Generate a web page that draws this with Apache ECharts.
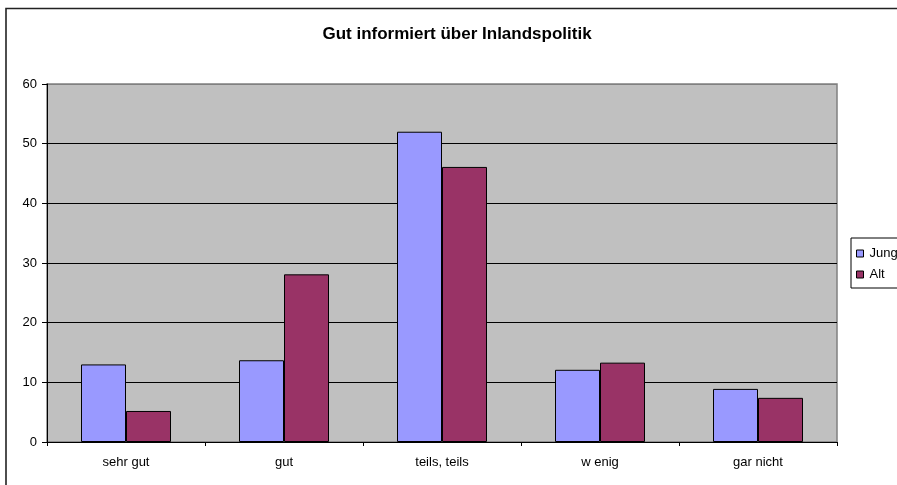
<!DOCTYPE html>
<html>
<head>
<meta charset="utf-8">
<script src="https://cdn.jsdelivr.net/npm/echarts@6/dist/echarts.min.js"></script>
<style>
  html, body { margin: 0; padding: 0; background: #fff; }
  #chart { width: 897px; height: 485px; }
</style>
</head>
<body>
<div id="chart"></div>
<script>
// Survey answers: how well informed about domestic politics, young vs. old
const categories = ['sehr gut', 'gut', 'teils, teils', 'w enig', 'gar nicht'];
const jungValues = [13.0, 13.7, 52.0, 12.1, 8.9];
const altValues = [5.2, 28.1, 46.1, 13.3, 7.4];
const seriesNames = ['Jung', 'Alt'];
const yTicks = { min: 0, max: 60, interval: 10 };

const FONT = '"Liberation Sans", Arial, sans-serif';

const chart = echarts.init(document.getElementById('chart'), null, { renderer: 'canvas' });

chart.setOption({
  backgroundColor: '#ffffff',
  animation: false,
  title: {
    text: 'Gut informiert über Inlandspolitik',
    left: 452,
    top: 21,
    textAlign: 'center',
    textStyle: { fontFamily: FONT, fontSize: 17, fontWeight: 'bold', color: '#000' }
  },
  graphic: [{
    type: 'rect',
    shape: { x: 6, y: 8.5, width: 1200, height: 1200 },
    style: { fill: 'none', stroke: '#222', lineWidth: 1.6 },
    silent: true,
    z: 100
  }],
  legend: {
    orient: 'vertical',
    left: 851,
    top: 238,
    data: seriesNames,
    icon: 'rect',
    itemWidth: 7,
    itemHeight: 7,
    itemGap: 8,
    padding: [9, 30, 7, 5],
    borderColor: '#000',
    borderWidth: 1,
    backgroundColor: '#fff',
    itemStyle: { borderColor: '#000', borderWidth: 1 },
    textStyle: { fontFamily: FONT, fontSize: 13, color: '#000', padding: [0, 0, 0, 1] }
  },
  grid: {
    left: 47,
    top: 84,
    right: 60,
    bottom: 43,
    show: true,
    backgroundColor: '#c0c0c0',
    borderColor: '#808080',
    borderWidth: 1.5
  },
  xAxis: {
    type: 'category',
    data: categories,
    axisLine: { lineStyle: { color: '#000', width: 1 } },
    axisTick: { show: true, length: 4, lineStyle: { color: '#000' } },
    axisLabel: { fontFamily: FONT, fontSize: 13, color: '#000', margin: 14 },
    splitLine: { show: false }
  },
  yAxis: {
    type: 'value',
    min: yTicks.min,
    max: yTicks.max,
    interval: yTicks.interval,
    axisLine: { show: true, lineStyle: { color: '#000', width: 1 } },
    axisTick: { show: true, length: 5, lineStyle: { color: '#000' } },
    axisLabel: { fontFamily: FONT, fontSize: 13, color: '#000', margin: 10 },
    splitLine: {
      show: true,
      lineStyle: {
        color: ['#000', '#000', '#000', '#000', '#000', '#000', '#808080'],
        width: 1
      }
    }
  },
  series: [
    {
      name: seriesNames[0],
      type: 'bar',
      data: jungValues,
      barWidth: 45,
      barGap: '0%',
      itemStyle: { color: '#9999ff', borderColor: '#000', borderWidth: 1 }
    },
    {
      name: seriesNames[1],
      type: 'bar',
      data: altValues,
      barWidth: 45,
      barGap: '0%',
      itemStyle: { color: '#993366', borderColor: '#000', borderWidth: 1 }
    }
  ]
});
</script>
</body>
</html>
